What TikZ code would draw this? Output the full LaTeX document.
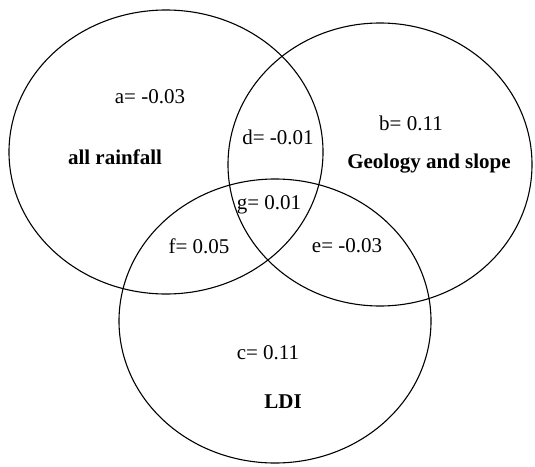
\documentclass[tikz,border=0pt]{standalone}
\usepackage{fontspec}
\setmainfont{Liberation Serif}
\begin{document}
\begin{tikzpicture}[x=1pt,y=-1pt,
  venn/.style={draw=black,line width=1.1pt},
  val/.style={font=\fontsize{21}{24}\selectfont,inner sep=0pt},
  lab/.style={font=\fontsize{21}{24}\selectfont\bfseries,inner sep=0pt}]
\useasboundingbox (0,0) rectangle (535,466);
\draw[venn] (166,152) ellipse [x radius=157, y radius=142];
\draw[venn] (380,164.5) ellipse [x radius=152, y radius=141.5];
\draw[venn] (275,321) ellipse [x radius=156, y radius=142];
\node[val] (a) at (150,97) {a= -0.03};
\node[val] (d) at (278,137) {d= -0.01};
\node[val] (b) at (411,123) {b= 0.11};
\node[lab] (rain) at (115,157) {all rainfall};
\node[lab] (geo) at (429,164) {Geology and slope};
\node[val] (g) at (269,205) {g= 0.01};
\node[val] (f) at (199,246) {f= 0.05};
\node[val] (e) at (347,246) {e= -0.03};
\node[val] (c) at (268,353) {c= 0.11};
\node[lab] (ldi) at (283,402) {LDI};
\end{tikzpicture}
\end{document}
